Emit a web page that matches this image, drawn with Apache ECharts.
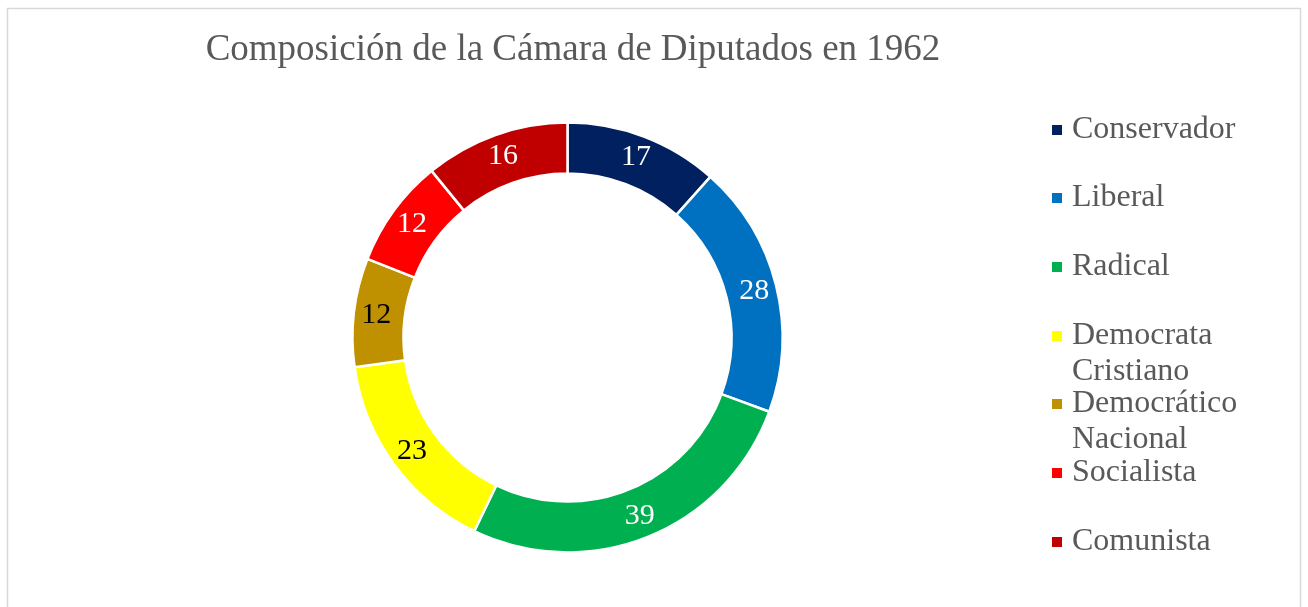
<!DOCTYPE html>
<html>
<head>
<meta charset="utf-8">
<script src="https://cdn.jsdelivr.net/npm/echarts@6/dist/echarts.min.js"></script>
<style>
  html, body { margin: 0; padding: 0; background: #fff; }
  #chart { width: 1308px; height: 607px; }
</style>
</head>
<body>
<div id="chart"></div>
<script>
var parties = ['Conservador', 'Liberal', 'Radical', 'Democrata Cristiano', 'Democrático Nacional', 'Socialista', 'Comunista'];
var seats = [17, 28, 39, 23, 12, 12, 16];
var colors = ['#002060', '#0070c0', '#00b050', '#ffff00', '#bf9000', '#ff0000', '#c00000'];
var labelColors = ['#fff', '#fff', '#fff', '#000', '#000', '#fff', '#fff'];
// legend wraps these two names onto two lines
var legendNames = ['Conservador', 'Liberal', 'Radical', 'Democrata\nCristiano', 'Democrático\nNacional', 'Socialista', 'Comunista'];

var FONT = '"Liberation Serif", "Times New Roman", serif';
var LINE = 36;

var chart = echarts.init(document.getElementById('chart'), null, { renderer: 'canvas' });

// one legend per entry so the wrapped names don't push the rest down;
// a blank first line keeps the icon level with the first text line
var legends = parties.map(function (name, i) {
  var twoLine = legendNames[i].indexOf('\n') >= 0;
  var iconCenter = 129.5 + i * 68.67;
  return {
    orient: 'vertical',
    left: 1050,
    top: Math.round(iconCenter - (twoLine ? LINE * 1.5 : LINE / 2)),
    padding: 0,
    itemWidth: 12,
    itemHeight: 12,
    icon: 'rect',
    selectedMode: false,
    data: [name],
    formatter: function () { return twoLine ? ' \n' + legendNames[i] : legendNames[i]; },
    textStyle: {
      fontFamily: FONT,
      fontSize: 32,
      color: '#595959',
      lineHeight: LINE,
      padding: [0, 0, 0, 4]
    }
  };
});

chart.setOption({
  backgroundColor: '#fff',
  animation: false,
  graphic: [{
    type: 'rect',
    shape: { x: 7.5, y: 8.5, width: 1293, height: 700 },
    style: { fill: 'none', stroke: '#d9d9d9', lineWidth: 1.5 },
    silent: true
  }],
  title: {
    text: 'Composición de la Cámara de Diputados en 1962',
    left: 568,
    textAlign: 'center',
    top: 27,
    textStyle: {
      fontFamily: FONT,
      fontSize: 37,
      fontWeight: 'normal',
      color: '#595959'
    }
  },
  legend: legends,
  series: [{
    type: 'pie',
    center: [567.5, 337.5],
    radius: [164, 215],
    startAngle: 90,
    clockwise: true,
    avoidLabelOverlap: false,
    itemStyle: { borderColor: '#fff', borderWidth: 2.5 },
    label: {
      show: true,
      position: 'inside',
      fontFamily: FONT,
      fontSize: 30,
      formatter: '{c}'
    },
    labelLine: { show: false },
    emphasis: { scale: false },
    data: parties.map(function (name, i) {
      return {
        name: name,
        value: seats[i],
        itemStyle: { color: colors[i] },
        label: { color: labelColors[i] }
      };
    })
  }]
});
</script>
</body>
</html>
